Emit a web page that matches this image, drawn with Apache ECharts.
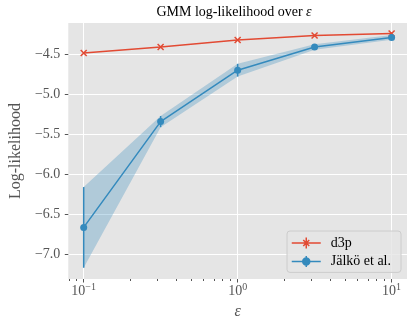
<!DOCTYPE html>
<html>
<head>
<meta charset="utf-8">
<script src="https://cdn.jsdelivr.net/npm/echarts@6/dist/echarts.min.js"></script>
<style>
  html, body { margin: 0; padding: 0; background: #fff; }
  #chart { width: 415px; height: 326px; }
</style>
</head>
<body>
<div id="chart"></div>
<script>
// epsilon values (log x axis)
var epsilons = [0.1, 0.316, 1.0, 3.16, 10.0];
// d3p mean / std of log-likelihood
var d3pMean = [-4.484, -4.409, -4.321, -4.266, -4.240];
var d3pStd = [0.010, 0.010, 0.010, 0.010, 0.012];
// Jälkö et al. mean / std
var jalkoMean = [-6.667, -5.343, -4.700, -4.410, -4.290];
var jalkoStd = [0.505, 0.070, 0.080, 0.035, 0.030];
// ticks
var xMajorTicks = [0.1, 1, 10];
var xMinorTicks = [0.08, 0.09, 0.2, 0.3, 0.4, 0.5, 0.6, 0.7, 0.8, 0.9, 2, 3, 4, 5, 6, 7, 8, 9];
var yTicks = [-7.0, -6.5, -6.0, -5.5, -5.0, -4.5];

var red = '#E24A33', blue = '#348ABD', grey = '#555555';
var serif = '"Liberation Serif", "DejaVu Serif", serif';

function points(xs, ys) {
    return xs.map(function (x, i) { return [x, ys[i]]; });
}
function errRows(xs, m, s) {
    return xs.map(function (x, i) { return [x, m[i] - s[i], m[i] + s[i]]; });
}

function errorBars(color) {
    return function (params, api) {
        var lo = api.coord([api.value(0), api.value(1)]);
        var hi = api.coord([api.value(0), api.value(2)]);
        return {
            type: 'line',
            shape: { x1: lo[0], y1: lo[1], x2: hi[0], y2: hi[1] },
            style: { stroke: color, lineWidth: 1.5 }
        };
    };
}

// whole band drawn once, from all rows
function band(params, api) {
    if (params.dataIndex !== 0) return;
    var n = params.dataInsideLength;
    var up = [], down = [];
    for (var i = 0; i < n; i++) {
        up.push(api.coord([api.value(0, i), api.value(2, i)]));
        down.unshift(api.coord([api.value(0, i), api.value(1, i)]));
    }
    return {
        type: 'polygon',
        shape: { points: up.concat(down) },
        style: { fill: 'rgba(52,138,189,0.3)' }
    };
}

function logLabel(v) {
    var e = Math.round(Math.log10(v));
    return '{b|10}{s|' + (e < 0 ? '\u2212' + (-e) : e) + '}';
}

var xMin = Math.pow(10, -1.1), xMax = Math.pow(10, 1.1);

var option = {
    animation: false,
    title: {
        text: 'GMM log-likelihood over {i|\u03b5}',
        left: 234,
        top: 5,
        padding: 0,
        textAlign: 'center',
        textStyle: {
            fontSize: 14, fontWeight: 'normal', color: '#000', fontFamily: serif,
            rich: { i: { fontStyle: 'italic', fontSize: 14, fontFamily: serif, color: '#000' } }
        }
    },
    grid: {
        left: 61, right: 8, top: 23, bottom: 47,
        show: true, backgroundColor: '#E5E5E5', borderWidth: 0
    },
    legend: {
        orient: 'vertical',
        left: 287, top: 231,
        padding: [5, 10, 4, 4],
        itemWidth: 29, itemHeight: 11, itemGap: 4.4,
        backgroundColor: 'rgba(229,229,229,0.8)',
        borderColor: '#cccccc', borderWidth: 1, borderRadius: 3,
        textStyle: { fontFamily: serif, fontSize: 14, color: '#000', lineHeight: 14, padding: [0, 0, 0, 5] },
        data: [
            {
                name: 'd3p',
                icon: 'path://M0 5.5H29M14.5 0V11M11.5 2.5L17.5 8.5M17.5 2.5L11.5 8.5',
                itemStyle: { color: red, borderColor: red, borderWidth: 1.5 }
            },
            {
                name: 'Jälkö et al.',
                icon: 'path://M0 5.5H29M14.5 0V11M11 5.5A3.5 3.5 0 1 1 18 5.5A3.5 3.5 0 1 1 11 5.5Z',
                itemStyle: { color: blue, borderColor: blue, borderWidth: 1.5 }
            }
        ]
    },
    xAxis: [{
        type: 'log', logBase: 10, min: xMin, max: xMax, position: 'bottom',
        axisLine: { show: false },
        axisTick: { customValues: xMajorTicks, length: 3.5, lineStyle: { color: grey } },
        axisLabel: {
            customValues: xMajorTicks, formatter: logLabel, margin: 3,
            rich: {
                b: { fontSize: 14, fontFamily: serif, color: grey },
                s: { fontSize: 10, fontFamily: serif, color: grey, padding: [0, 0, 9, 0] }
            }
        },
        splitLine: { show: true, lineStyle: { color: '#ffffff', width: 1 } },
        name: '\u03b5', nameLocation: 'middle', nameGap: 24,
        nameTextStyle: { fontSize: 16, fontStyle: 'italic', fontFamily: serif, color: grey }
    }, {
        type: 'log', logBase: 10, min: xMin, max: xMax, position: 'bottom',
        axisLine: { show: false },
        axisLabel: { show: false },
        splitLine: { show: false },
        axisTick: { customValues: xMinorTicks, length: 2, lineStyle: { color: grey } }
    }],
    yAxis: {
        type: 'value', min: -7.3125, max: -4.109,
        axisLine: { show: false },
        axisTick: { customValues: yTicks, length: 3.5, lineStyle: { color: grey } },
        axisLabel: {
            customValues: yTicks, margin: 8, color: grey, fontSize: 14, fontFamily: serif,
            formatter: function (v) { return (v < 0 ? '\u2212' : '') + Math.abs(v).toFixed(1); }
        },
        splitLine: { show: true, lineStyle: { color: '#ffffff', width: 1 } },
        name: 'Log-likelihood', nameLocation: 'middle', nameGap: 40,
        nameTextStyle: { fontSize: 16, fontFamily: serif, color: grey }
    },
    series: [
        {
            name: 'band', type: 'custom', xAxisIndex: 0, z: 1, silent: true,
            renderItem: band, data: errRows(epsilons, jalkoMean, jalkoStd)
        },
        {
            name: 'd3p err', type: 'custom', xAxisIndex: 0, z: 2, silent: true,
            renderItem: errorBars(red), data: errRows(epsilons, d3pMean, d3pStd)
        },
        {
            name: 'd3p', type: 'line', xAxisIndex: 0, z: 3,
            data: points(epsilons, d3pMean),
            symbol: 'path://M0 0L10 10M10 0L0 10', symbolSize: 6, showAllSymbol: true,
            lineStyle: { color: red, width: 1.5 },
            itemStyle: { color: red, borderColor: red, borderWidth: 1.5 }
        },
        {
            name: 'Jälkö err', type: 'custom', xAxisIndex: 0, z: 4, silent: true,
            renderItem: errorBars(blue), data: errRows(epsilons, jalkoMean, jalkoStd)
        },
        {
            name: 'Jälkö et al.', type: 'line', xAxisIndex: 0, z: 5,
            data: points(epsilons, jalkoMean),
            symbol: 'circle', symbolSize: 7, showAllSymbol: true,
            lineStyle: { color: blue, width: 1.5 },
            itemStyle: { color: blue, borderWidth: 0 }
        }
    ]
};

var myChart = echarts.init(document.getElementById('chart'));
myChart.setOption(option);
</script>
</body>
</html>
